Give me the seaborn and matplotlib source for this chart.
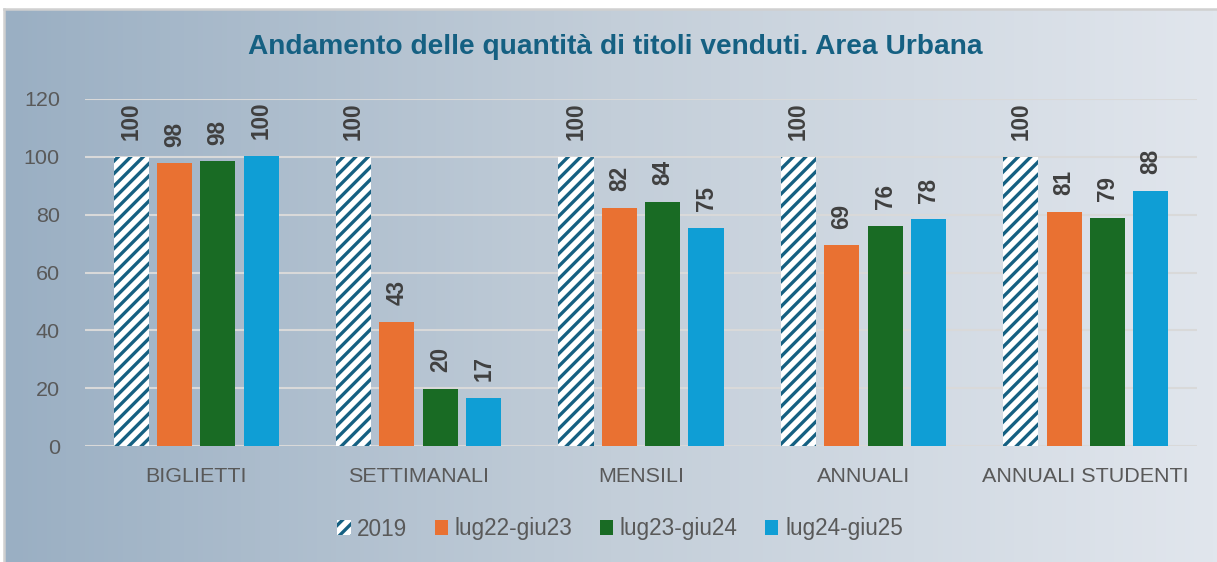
import numpy as np
import pandas as pd
import matplotlib
matplotlib.use("Agg")
import matplotlib.pyplot as plt
import seaborn as sns
from matplotlib.patches import Patch
from matplotlib.colors import LinearSegmentedColormap

# ---------------- dati ----------------
categorie = ["BIGLIETTI", "SETTIMANALI", "MENSILI", "ANNUALI", "ANNUALI STUDENTI"]
periodi = ["2019", "lug22-giu23", "lug23-giu24", "lug24-giu25"]
v_2019 = [100, 100, 100, 100, 100]
v_2223 = [97.8, 42.9, 82.3, 69.4, 80.9]
v_2324 = [98.4, 19.7, 84.4, 76.1, 78.8]
v_2425 = [100.4, 16.6, 75.4, 78.4, 88.2]
y_ticks = [0, 20, 40, 60, 80, 100, 120]

colori = ["#FFFFFF", "#E97132", "#196B24", "#0F9ED5"]
col_hatch = "#156082"

df = pd.DataFrame({
    "categoria": categorie * 4,
    "periodo": np.repeat(periodi, len(categorie)),
    "valore": v_2019 + v_2223 + v_2324 + v_2425,
})

# ---------------- stile ----------------
sns.set_style("white")
plt.rcParams["font.family"] = ["Liberation Sans", "DejaVu Sans"]
plt.rcParams["hatch.linewidth"] = 1.6

DPI = 150
fig = plt.figure(figsize=(1218 / DPI, 562 / DPI), dpi=DPI)
fig.patch.set_facecolor("white")

# sfondo sfumato
bg = fig.add_axes([4 / 1218, 0, 1 - 4 / 1218, 1 - 9 / 562], zorder=0)
cmap = LinearSegmentedColormap.from_list("sfondo", ["#9aafc3", "#c3ced9", "#e1e6ed"])
bg.imshow(np.linspace(0, 1, 256)[None, :], cmap=cmap, aspect="auto", extent=[0, 1, 0, 1])
bg.set_xticks([])
bg.set_yticks([])
for s in ["right", "bottom"]:
    bg.spines[s].set_visible(False)
for s in ["top", "left"]:
    bg.spines[s].set_color("#d0d0d0")
    bg.spines[s].set_linewidth(1.2)

ax = fig.add_axes([85 / 1218, 1 - 446 / 562, 1112 / 1218, 347 / 562], zorder=1)
ax.set_facecolor("none")

sns.barplot(data=df, x="categoria", y="valore", hue="periodo", palette=colori,
            width=0.78, gap=0.19, ax=ax, legend=False, saturation=1, zorder=3,
            linewidth=0)

# barre 2019 tratteggiate
for bar in ax.containers[0]:
    bar.set_facecolor("white")
    bar.set_edgecolor(col_hatch)
    bar.set_hatch("////")
    bar.set_linewidth(0)

# etichette dati
for cont in ax.containers:
    ax.bar_label(cont, labels=[f"{round(b.get_height()):d}" for b in cont],
                 rotation=90, padding=8, fontsize=10.8, fontweight="bold", color="#404040")

ax.set_ylim(0, 120)
ax.set_xlim(-0.5, 4.5)
ax.set_yticks(y_ticks)
ax.yaxis.grid(True, color="#d9d9d9", linewidth=1.0, zorder=0)
ax.set_axisbelow(True)
for s in ax.spines.values():
    s.set_visible(False)
ax.tick_params(axis="y", length=0, pad=12, labelsize=10.3, labelcolor="#595959")
ax.tick_params(axis="x", length=0, pad=10, labelsize=10.3, labelcolor="#595959")
ax.set_xlabel("")
ax.set_ylabel("")

fig.text(0.505, 1 - 47 / 562, "Andamento delle quantità di titoli venduti. Area Urbana",
         ha="center", va="center", fontsize=13.5, fontweight="bold", color="#156082")

handles = [Patch(facecolor=c, edgecolor=col_hatch if i == 0 else c,
                 hatch="////" if i == 0 else None, linewidth=0)
           for i, c in enumerate(colori)]
fig.legend(handles, periodi, loc="center", bbox_to_anchor=(0.509, 1 - 529 / 562), ncol=4,
           frameon=False, handlelength=0.6, handleheight=0.6, handletextpad=0.3,
           columnspacing=1.2, fontsize=10.8, labelcolor="#595959")

fig.savefig("out.png", dpi=DPI)
